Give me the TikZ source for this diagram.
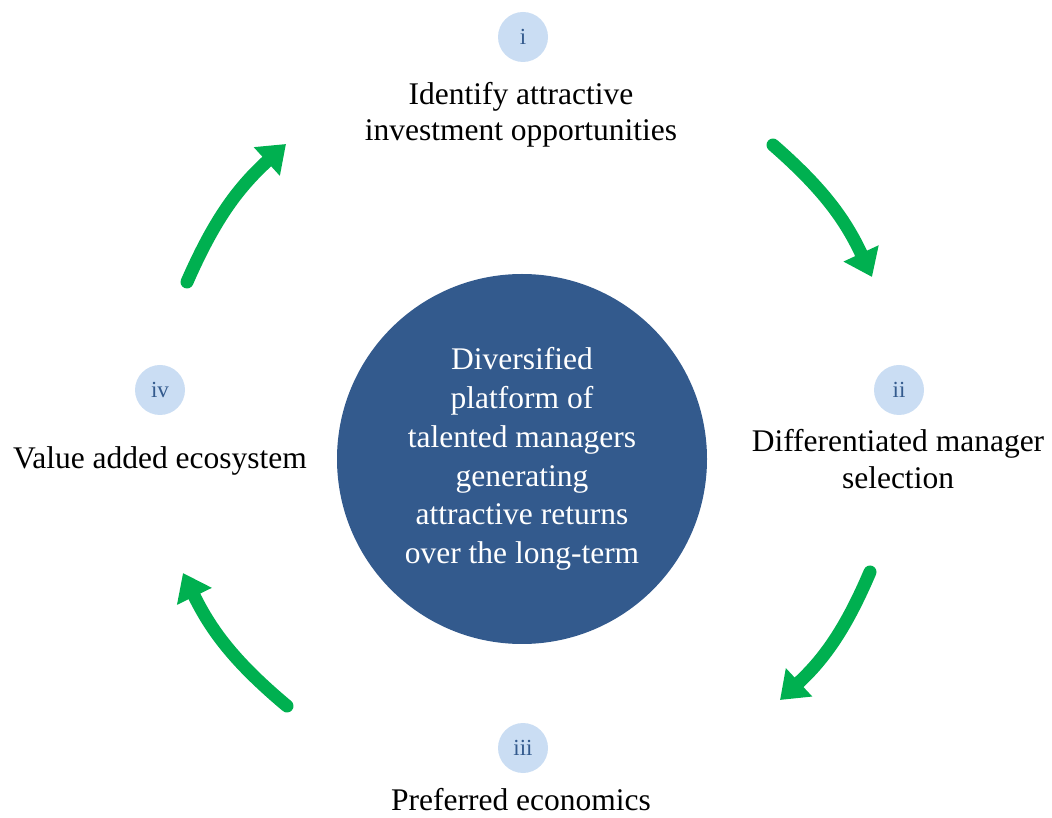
\documentclass[tikz,border=0pt]{standalone}
\usepackage{fontspec}
\setmainfont{Liberation Serif}
\usetikzlibrary{arrows.meta,positioning}

\definecolor{hubblue}{HTML}{335A8D}
\definecolor{badgeblue}{HTML}{CADDF3}
\definecolor{cyclegreen}{HTML}{00B050}

\tikzset{
    hub/.style={circle,fill=hubblue,minimum size=370pt,inner sep=0pt,
        text=white,align=center,font=\fontsize{31.5}{38.7}\selectfont},
    badge/.style={circle,fill=badgeblue,minimum size=50pt,inner sep=0pt,
        text=hubblue,font=\fontsize{23}{23}\selectfont},
    stage/.style={align=center,inner sep=0pt,font=\fontsize{31.5}{36.5}\selectfont},
    cycle/.style={cyclegreen,line width=13pt,line cap=round,
        -{Triangle[length=26pt,width=37pt]},bend left=12}
}

\begin{document}
\begin{tikzpicture}[x=1pt,y=1pt]
    \useasboundingbox (0,0) rectangle (1052,817);
    % Centre circle
    \node[hub] (hub) at (522,358) {Diversified\\platform of\\talented managers\\generating\\attractive returns\\over the long-term};
    % Numbered badges
    \node[badge] (bi)   at (523,780) {i};
    \node[badge] (bii)  at (899,427) {ii};
    \node[badge] (biii) at (523,69)  {iii};
    \node[badge] (biv)  at (160,427) {iv};
    % Stage labels
    \node[stage] (identify) at (521,702) {Identify attractive\\investment opportunities};
    \node[stage] (select)   at (898,358) {Differentiated manager\\selection};
    \node[stage] (econ)     at (521,17)  {Preferred economics};
    \node[stage] (eco)      at (160,356) {Value added ecosystem};
    % Arrow ends
    \coordinate (a1s) at (187,535);
    \coordinate (a1e) at (286,673);
    \coordinate (a2s) at (773,672);
    \coordinate (a2e) at (872,540);
    \coordinate (a3s) at (870,245);
    \coordinate (a3e) at (780,117);
    \coordinate (a4s) at (287,111);
    \coordinate (a4e) at (183,244);
    % Clockwise cycle arrows
    \draw[cycle] (a1s) to (a1e);
    \draw[cycle] (a2s) to (a2e);
    \draw[cycle] (a3s) to (a3e);
    \draw[cycle] (a4s) to (a4e);
\end{tikzpicture}
\end{document}
